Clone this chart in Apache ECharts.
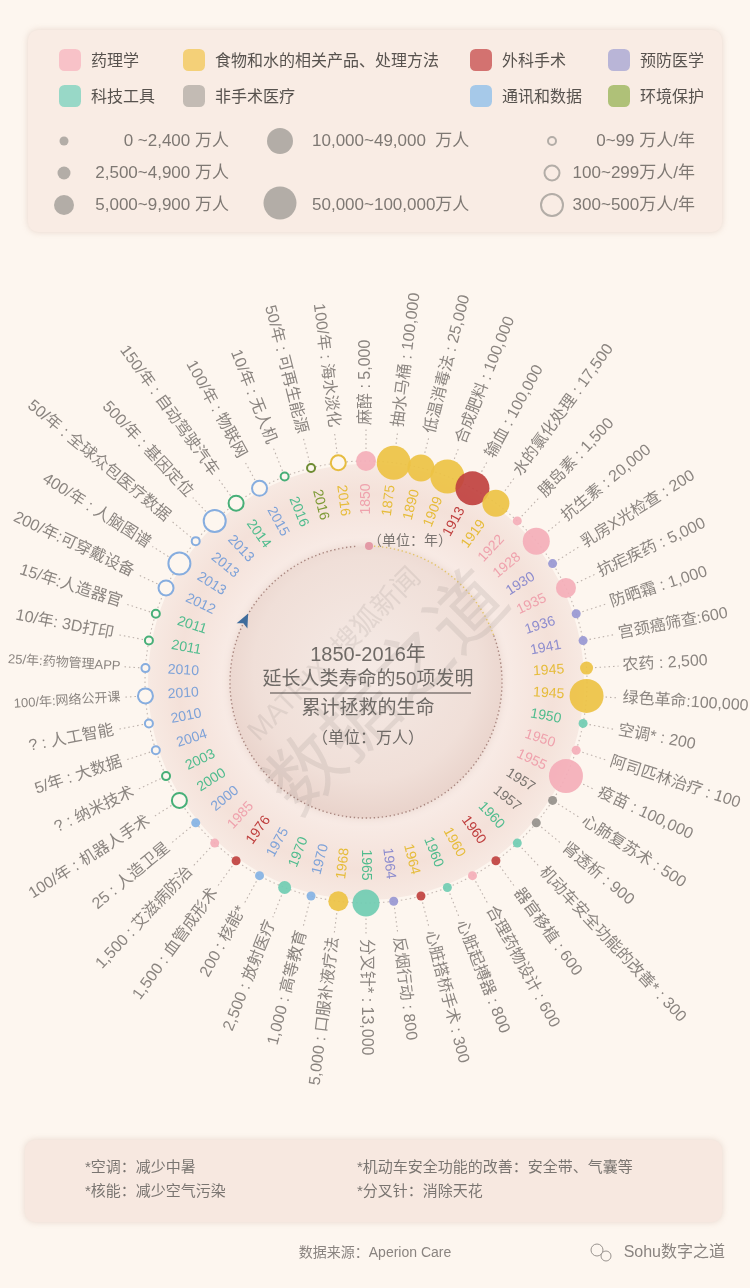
<!DOCTYPE html>
<html>
<head>
<meta charset="utf-8">
<script src="https://cdn.jsdelivr.net/npm/echarts@6/dist/echarts.min.js"></script>
<style>
html, body { margin: 0; padding: 0; background: #FDF6EF; }
#main { width: 750px; height: 1288px; }
</style>
</head>
<body>
<div id="main"></div>
<script>
// 50 inventions, clockwise from the top
var names = ['麻醉', '抽水马桶', '低温消毒法', '合成肥料', '输血', '水的氯化处理', '胰岛素', '抗生素',
  '乳房X光检查', '抗疟疾药', '防晒霜', '宫颈癌筛查', '农药', '绿色革命', '空调*', '阿司匹林治疗', '疫苗',
  '心肺复苏术', '肾透析', '机动车安全功能的改善*', '器官移植', '合理药物设计', '心脏起搏器', '心脏搭桥手术',
  '反烟行动', '分叉针*', '口服补液疗法', '高等教育', '放射医疗', '核能*', '血管成形术', '艾滋病防治',
  '人造卫星', '机器人手术', '纳米技术', '大数据', '人工智能', '网络公开课', '药物管理APP', '3D打印',
  '人造器官', '可穿戴设备', '人脑图谱', '全球众包医疗数据', '基因定位', '自动驾驶汽车', '物联网', '无人机',
  '可再生能源', '海水淡化'];

var years = [1850, 1875, 1890, 1909, 1913, 1919, 1922, 1928, 1930, 1935, 1936, 1941, 1945, 1945, 1950, 1950,
  1955, 1957, 1957, 1960, 1960, 1960, 1960, 1964, 1964, 1965, 1968, 1970, 1970, 1975, 1976, 1985,
  2000, 2000, 2003, 2004, 2010, 2010, 2010, 2011, 2011, 2012, 2013, 2013, 2013, 2014, 2015, 2016, 2016, 2016];

// 累计拯救的生命（万人）
var lives = [5000, 100000, 25000, 100000, 100000, 17500, 1500, 20000, 200, 5000, 1000, 600, 2500, 100000,
  200, 100, 100000, 500, 900, 300, 600, 600, 800, 300, 800, 13000, 5000, 1000, 2500, 200, 1500, 1500, 25,
  null, null, null, null, null, null, null, null, null, null, null, null, null, null, null, null, null];

// 未来每年可拯救（万人/年），'?' = 未知
var perYear = [null, null, null, null, null, null, null, null, null, null, null, null, null, null, null, null,
  null, null, null, null, null, null, null, null, null, null, null, null, null, null, null, null, null,
  100, '?', 5, '?', 100, 25, 10, 15, 200, 400, 50, 500, 150, 100, 10, 50, 100];

// P 药理学, F 食物和水, S 外科手术, V 预防医学, T 科技工具, N 非手术医疗, C 通讯和数据, E 环境保护
var cats = 'PFFFSFPPVPVVFFTPPNNTSPTSVTFCTCSPCTTCCCCTTCCCCTCTEF'.split('');
var yearCats = 'PFFFSFPPVPVVFFTPPNNTSFTFVTFCTCSPCTTCCCCTTCCCCTCTEF'.split('');

var catKeys = ['P', 'F', 'S', 'V', 'T', 'N', 'C', 'E'];
var catNames = { P: '药理学', F: '食物和水的相关产品、处理方法', S: '外科手术', V: '预防医学',
  T: '科技工具', N: '非手术医疗', C: '通讯和数据', E: '环境保护' };

var legendColors = { P: '#F7B8C0', F: '#F2C95C', S: '#C95452', V: '#A9A8D3', T: '#80D3BF', N: '#B5AFA8', C: '#91C0EA', E: '#9CB65C' };
var bubbleColors = { P: '#F4AEB8', F: '#EDC244', S: '#C0413F', V: '#9897D2', T: '#70CCB2', N: '#95908B', C: '#84B2E4', E: '#8FAA4E' };
var ringColors = { T: '#47AF78', C: '#86ADDF', E: '#6E8C33', F: '#E6BC40' };
var yearColors = { P: '#EFA2AD', F: '#E6BC3A', S: '#BF3F3E', V: '#8D8CCE', T: '#50BC8E', N: '#7A746F', C: '#7EA2D8', E: '#7D9A35' };

var tightSep = ['宫颈癌筛查', '绿色革命', '可穿戴设备', '人造器官', '药物管理APP', '网络公开课'];
var smallText = ['药物管理APP', '网络公开课'];

var CX = 366, CY = 682;
var R_YEAR = 183, R_BUBBLE = 221, R_LABEL = 257, R_INNER = 136;
var FONT = "'Liberation Sans', 'Noto Sans CJK SC', sans-serif";
var CJK = "'Noto Sans CJK SC', 'Noto Sans', sans-serif";

function bubbleSize(i) {
  if (lives[i] != null) {
    var v = lives[i];
    if (v < 2500) return 9;
    if (v < 5000) return 13;
    if (v < 10000) return 20;
    if (v < 50000) return 27;
    return 34;
  }
  var p = perYear[i];
  if (p === '?' || p < 100) return 8;
  if (p < 300) return 15;
  return 22;
}

function fmt(v) {
  return v.toLocaleString('en-US');
}

function labelText(i, right) {
  var sep = ' : ';
  if (tightSep.indexOf(names[i]) >= 0) sep = ':';
  if (names[i] === '3D打印') sep = ': ';
  var val;
  if (lives[i] != null) val = fmt(lives[i]);
  else if (perYear[i] === '?') val = '?';
  else val = perYear[i] + '/年';
  return right ? names[i] + sep + val : val + sep + names[i];
}

var bubbleData = names.map(function (n, i) {
  var k = cats[i];
  var hollow = lives[i] == null;
  return {
    name: n,
    value: [R_BUBBLE, i],
    symbolSize: bubbleSize(i),
    itemStyle: hollow
      ? { color: '#FDF6EF', borderColor: ringColors[k] || bubbleColors[k], borderWidth: 2, opacity: 1 }
      : { color: bubbleColors[k], opacity: 0.92 }
  };
});

var labelData = names.map(function (n, i) { return [0, i]; });

function renderLabels(params, api) {
  var i = params.dataIndex;
  var small = smallText.indexOf(names[i]) >= 0;
  var rl = small ? R_LABEL - 11 : R_LABEL;
  var c = api.coord([0, i]);
  var p0 = api.coord([R_BUBBLE + bubbleSize(i) / 2 + 2, i]);
  var p1 = api.coord([rl - 4, i]);
  var pl = api.coord([rl, i]);
  var py = api.coord([R_YEAR, i]);
  var ang = Math.atan2(c[1] - pl[1], pl[0] - c[0]);
  var right = i <= 25;
  var rot = right ? ang : ang - Math.PI;
  return {
    type: 'group',
    children: [
      { type: 'line', shape: { x1: p0[0], y1: p0[1], x2: p1[0], y2: p1[1] },
        style: { stroke: '#BDB2AC', lineWidth: 1.1, lineDash: [1.5, 3] } },
      { type: 'text', x: pl[0], y: pl[1], rotation: rot,
        style: { text: labelText(i, right), fill: '#8B8580', fontFamily: FONT,
          fontSize: small ? 13 : 16,
          align: right ? 'left' : 'right', verticalAlign: 'middle' } },
      { type: 'text', x: py[0], y: py[1], rotation: rot,
        style: { text: String(years[i]), fill: yearColors[yearCats[i]], fontFamily: FONT,
          fontSize: 14, align: 'center', verticalAlign: 'middle' } }
    ]
  };
}

function renderDecor(params, api) {
  var c = api.coord([0, 0]);
  var a = 154 * Math.PI / 180;
  var ax = c[0] + R_INNER * Math.cos(a), ay = c[1] - R_INNER * Math.sin(a);
  var d = [Math.cos(a - Math.PI / 2), -Math.sin(a - Math.PI / 2)];
  var n = [-d[1], d[0]];
  return {
    type: 'group',
    children: [
      { type: 'ring', shape: { cx: c[0], cy: c[1], r: R_BUBBLE - 3, r0: R_INNER },
        style: { fill: new echarts.graphic.RadialGradient(0.5, 0.5, 0.5, [
          { offset: 0.6, color: '#F9EDE8' },
          { offset: 0.86, color: '#F4E1D9' },
          { offset: 1, color: '#F7E9E2' }
        ]) } },
      { type: 'circle', shape: { cx: c[0], cy: c[1], r: R_INNER },
        style: { fill: new echarts.graphic.RadialGradient(0.5, 0.45, 0.55, [
          { offset: 0, color: '#F5EAE5' },
          { offset: 0.75, color: '#F0DFD8' },
          { offset: 1, color: '#E9D3CB' }
        ]), shadowBlur: 8, shadowColor: 'rgba(190,150,135,0.3)' } },
      { type: 'arc', shape: { cx: c[0], cy: c[1], r: R_INNER, startAngle: -Math.PI / 2, endAngle: -0.35, clockwise: true },
        style: { stroke: '#E3C46A', fill: null, lineWidth: 1.4, lineDash: [1.4, 2.6] } },
      { type: 'arc', shape: { cx: c[0], cy: c[1], r: R_INNER, startAngle: -0.35, endAngle: Math.PI * 1.5 - 0.06, clockwise: true },
        style: { stroke: '#A9867F', fill: null, lineWidth: 1.4, lineDash: [1.4, 2.6] } },
      { type: 'circle', shape: { cx: c[0], cy: c[1], r: R_BUBBLE },
        style: { stroke: '#C4B8B2', fill: null, lineWidth: 1.1, lineDash: [1.5, 3] } },
      { type: 'circle', shape: { cx: c[0] + 3, cy: c[1] - R_INNER, r: 4 }, style: { fill: '#E39AA6' } },
      { type: 'polygon', shape: { points: [
          [ax + d[0] * 10, ay + d[1] * 10],
          [ax - d[0] * 4 + n[0] * 6, ay - d[1] * 4 + n[1] * 6],
          [ax - d[0] * 1, ay - d[1] * 1],
          [ax - d[0] * 4 - n[0] * 6, ay - d[1] * 4 - n[1] * 6]
        ] }, style: { fill: '#3F6C9C' } }
    ]
  };
}

var legendSeries = catKeys.map(function (k) {
  return { type: 'scatter', coordinateSystem: 'polar', name: catNames[k], data: [],
    itemStyle: { color: legendColors[k] } };
});

function legendCol(items, left) {
  return {
    data: items, left: left, top: 44, orient: 'vertical', icon: 'roundRect',
    itemWidth: 22, itemHeight: 22, itemGap: 14, selectedMode: false,
    textStyle: { fontSize: 16, color: '#57524E', fontFamily: CJK, padding: [0, 0, 0, 5] }
  };
}

var txt = function (x, y, s, size, color, align, extra) {
  var o = { type: 'text', x: x, y: y, z: 10,
    style: { text: s, fontSize: size, fill: color, fontFamily: FONT, align: align || 'left', verticalAlign: 'middle' } };
  if (extra) for (var k in extra) o[k] = extra[k];
  return o;
};
var dot = function (x, y, d, hollow) {
  return { type: 'circle', z: 10, shape: { cx: x, cy: y, r: d / 2 },
    style: hollow ? { fill: null, stroke: '#B3ADA7', lineWidth: 2 } : { fill: '#B3ADA7' } };
};

var sizeGray = '#7E7873';
var markGray = 'rgba(160,150,145,0.2)';

var option = {
  backgroundColor: '#FDF6EF',
  animation: false,
  polar: { center: [CX, CY], radius: 300 },
  radiusAxis: { type: 'value', min: 0, max: 300, show: false,
    axisLine: { show: false }, axisLabel: { show: false }, axisTick: { show: false }, splitLine: { show: false } },
  angleAxis: { type: 'value', min: 0, max: 50, startAngle: 90, clockwise: true, show: false,
    axisLine: { show: false }, axisLabel: { show: false }, axisTick: { show: false }, splitLine: { show: false } },
  legend: [
    legendCol(['药理学', '科技工具'], 54),
    legendCol(['食物和水的相关产品、处理方法', '非手术医疗'], 178),
    legendCol(['外科手术', '通讯和数据'], 465),
    legendCol(['预防医学', '环境保护'], 603)
  ],
  graphic: [
    { type: 'rect', z: 0, shape: { x: 28, y: 30, width: 694, height: 202, r: 10 },
      style: { fill: '#F9ECE4', shadowBlur: 6, shadowColor: 'rgba(205,175,160,0.45)' } },
    { type: 'rect', z: 0, shape: { x: 25, y: 1140, width: 697, height: 82, r: 10 },
      style: { fill: '#F7E8E0', shadowBlur: 6, shadowColor: 'rgba(205,175,160,0.45)' } },

    dot(64, 141, 9), txt(229, 141, '0 ~2,400 万人', 17, sizeGray, 'right'),
    dot(64, 173, 13), txt(229, 173, '2,500~4,900 万人', 17, sizeGray, 'right'),
    dot(64, 205, 20), txt(229, 205, '5,000~9,900 万人', 17, sizeGray, 'right'),
    dot(280, 141, 26), txt(312, 141, '10,000~49,000  万人', 17, sizeGray),
    dot(280, 203, 33), txt(312, 205, '50,000~100,000万人', 17, sizeGray),
    dot(552, 141, 8, true), txt(695, 141, '0~99 万人/年', 17, sizeGray, 'right'),
    dot(552, 173, 15, true), txt(695, 173, '100~299万人/年', 17, sizeGray, 'right'),
    dot(552, 205, 22, true), txt(695, 205, '300~500万人/年', 17, sizeGray, 'right'),

    txt(390, 696, '数据之道', 76, markGray, 'center', { rotation: Math.PI / 4 }),
    txt(335, 655, 'MATRIX  搜狐新闻', 28, markGray, 'center', { rotation: Math.PI / 4 }),

    txt(410, 541, '（单位：年）', 14, '#7A7470', 'center'),
    txt(368, 655, '1850-2016年', 20, '#6F6A66', 'center'),
    txt(368, 680, '延长人类寿命的50项发明', 19, '#6F6A66', 'center'),
    { type: 'line', z: 10, shape: { x1: 270, y1: 693, x2: 471, y2: 693 }, style: { stroke: '#4A4542', lineWidth: 1.2 } },
    txt(368, 709, '累计拯救的生命', 19, '#6F6A66', 'center'),
    txt(368, 739, '（单位：万人）', 16, '#6F6A66', 'center'),

    txt(85, 1168, '*空调：减少中暑', 15, '#7A7571'),
    txt(85, 1192, '*核能：减少空气污染', 15, '#7A7571'),
    txt(357, 1168, '*机动车安全功能的改善：安全带、气囊等', 15, '#7A7571'),
    txt(357, 1192, '*分叉针：消除天花', 15, '#7A7571'),
    txt(375, 1253, '数据来源：Aperion Care', 14, '#8A8480', 'center'),
    { type: 'circle', z: 10, shape: { cx: 597, cy: 1250, r: 6 }, style: { fill: null, stroke: '#9A948F', lineWidth: 1 } },
    { type: 'circle', z: 10, shape: { cx: 606, cy: 1256, r: 5 }, style: { fill: '#FDF6EF', stroke: '#9A948F', lineWidth: 1 } },
    txt(725, 1253, 'Sohu数字之道', 16, '#8A8480', 'right')
  ],
  series: [
    { type: 'custom', coordinateSystem: 'polar', z: 1, silent: true, data: [[0, 0]], renderItem: renderDecor },
    { type: 'custom', coordinateSystem: 'polar', z: 2, silent: true, data: labelData, renderItem: renderLabels },
    { type: 'scatter', coordinateSystem: 'polar', z: 3, name: 'bubbles', data: bubbleData }
  ].concat(legendSeries)
};

var chart = echarts.init(document.getElementById('main'));
chart.setOption(option);
</script>
</body>
</html>
